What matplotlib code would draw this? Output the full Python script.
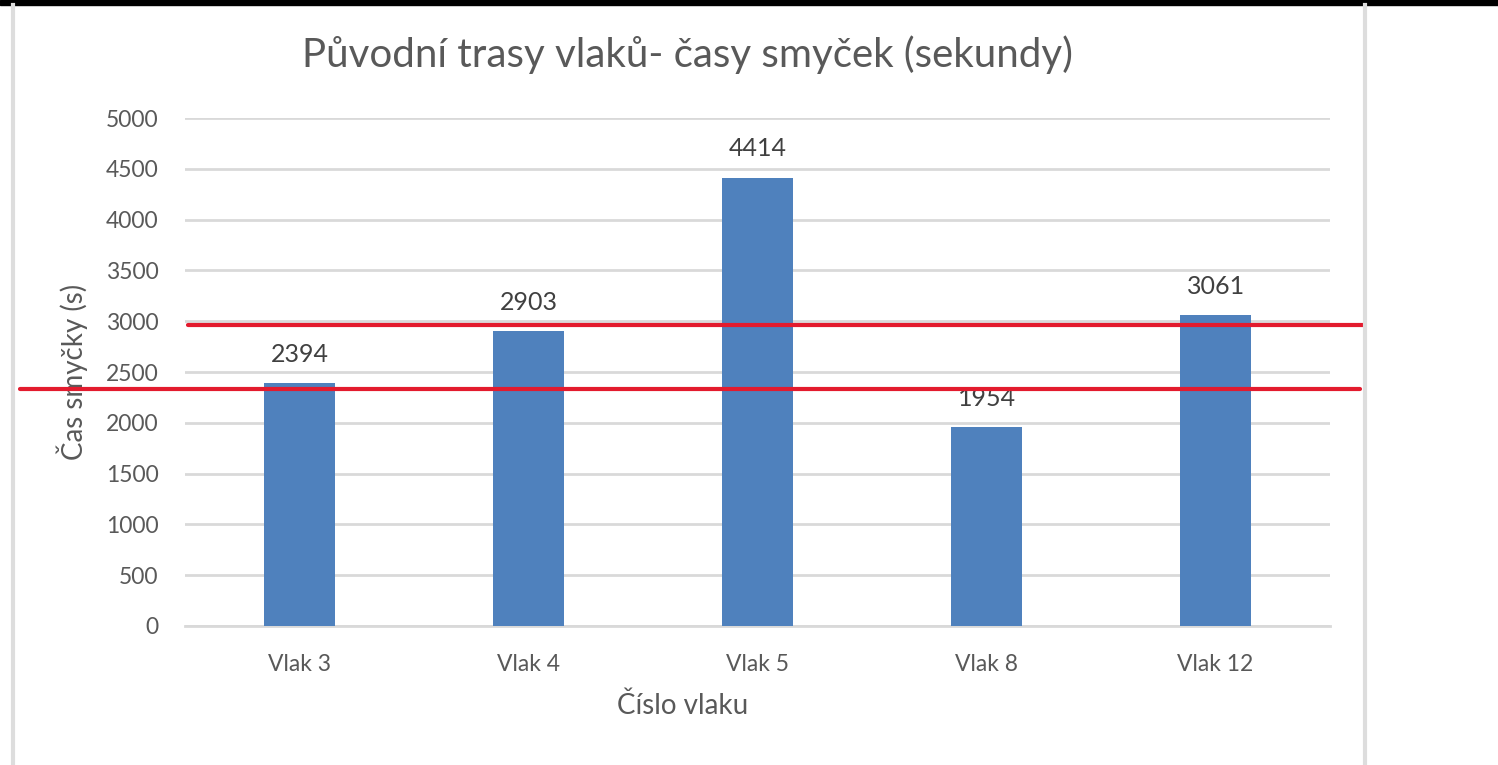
import numpy as np
import matplotlib.pyplot as plt
from matplotlib.transforms import blended_transform_factory

plt.rcParams['font.family'] = ['Lato', 'DejaVu Sans']

trains = ["Vlak 3", "Vlak 4", "Vlak 5", "Vlak 8", "Vlak 12"]
loop_times = [2394, 2903, 4414, 1954, 3061]
yticks = [0, 500, 1000, 1500, 2000, 2500, 3000, 3500, 4000, 4500, 5000]
# hand-drawn red marker lines (approx. level in seconds)
red_levels = [2958, 2333]
red_xspan = [(0.1255, 0.911), (0.0135, 0.908)]

text_col = "#595959"
bar_col = "#4F81BD"
grid_col = "#D9D9D9"
red_col = "#E31B2E"

fig = plt.figure(figsize=(14.98, 7.65), dpi=100)
ax = fig.add_axes([0.1235, 0.1817, 0.7644, 0.664])

x = np.arange(len(trains))
bars = ax.bar(x, loop_times, width=0.31, color=bar_col, zorder=3)
for xi, v in zip(x, loop_times):
    ax.text(xi, v + 170, str(v), ha="center", va="bottom", fontsize=18, color="#404040")

ax.set_xlim(-0.5, len(trains) - 0.5)
ax.set_ylim(0, 5000)
ax.set_yticks(yticks)
ax.set_yticklabels([str(t) for t in yticks], fontsize=16.5, color=text_col)
ax.set_xticks(x)
ax.set_xticklabels(trains, fontsize=16.5, color=text_col)
ax.tick_params(length=0)
ax.tick_params(axis="y", pad=19)
ax.tick_params(axis="x", pad=20)
ax.yaxis.grid(True, color=grid_col, linewidth=2, zorder=0)
for s in ["top", "right", "left"]:
    ax.spines[s].set_visible(False)
ax.spines["bottom"].set_color(grid_col)
ax.spines["bottom"].set_linewidth(2)

ax.set_xlabel("Číslo vlaku", fontsize=20, color=text_col, labelpad=18)
ax.xaxis.set_label_coords(0.435, -0.13)
ax.set_ylabel("Čas smyčky (s)", fontsize=20, color=text_col, labelpad=13)
fig.text(0.459, 0.928, "Původní trasy vlaků- časy smyček (sekundy)",
         ha="center", va="center", fontsize=29, color=text_col)

# red lines drawn across the chart
tr = blended_transform_factory(fig.transFigure, ax.transData)
for lvl, (x0, x1) in zip(red_levels, red_xspan):
    ax.plot([x0, x1], [lvl, lvl], transform=tr, color=red_col, linewidth=3,
            clip_on=False, zorder=5, solid_capstyle="round")

# screenshot borders
fig.add_artist(plt.Line2D([0.0085, 0.0085], [0, 0.993], transform=fig.transFigure,
                          color="#DDDDDD", linewidth=3))
fig.add_artist(plt.Line2D([0.9115, 0.9115], [0, 0.993], transform=fig.transFigure,
                          color="#DDDDDD", linewidth=3))
fig.add_artist(plt.Rectangle((0, 0.993), 1, 0.007, transform=fig.transFigure,
                             color="black"))

fig.savefig("out.png", dpi=100)
